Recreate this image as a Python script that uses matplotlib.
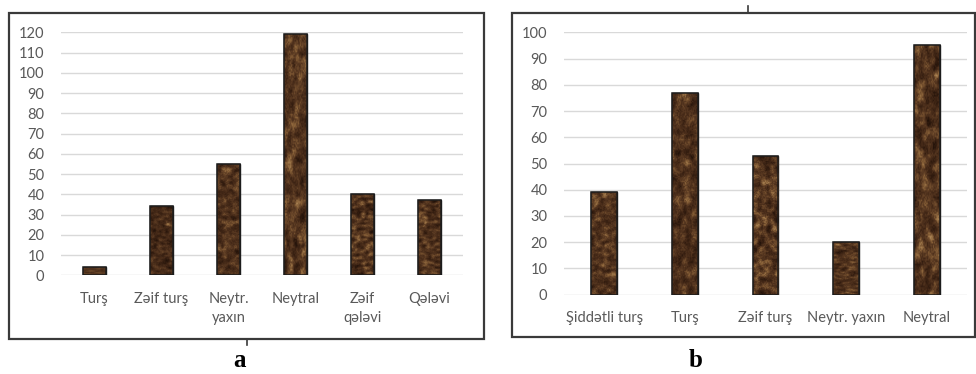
import numpy as np
import matplotlib
matplotlib.use("Agg")
import matplotlib.pyplot as plt
from matplotlib.colors import LinearSegmentedColormap
from matplotlib.patches import Rectangle
from matplotlib.lines import Line2D

# Data
cats_a = ["Turş", "Zəif turş", "Neytr.\nyaxın", "Neytral", "Zəif\nqələvi", "Qələvi"]
vals_a = [4, 34, 55, 119, 40, 37]
ticks_a = list(range(0, 121, 10))

cats_b = ["Şiddətli turş", "Turş", "Zəif turş", "Neytr. yaxın", "Neytral"]
vals_b = [39, 77, 53, 20, 95]
ticks_b = list(range(0, 101, 10))

W, H = 976, 374
fig = plt.figure(figsize=(W / 100, H / 100), dpi=100)
fig.patch.set_facecolor("white")

TXT = "#595959"
GRID = "#d9d9d9"
FONT = "Lato"
FS = 10.5

# brown marble texture used to fill the bars
rng = np.random.default_rng(11)
def marble(h=160, w=30):
    n = rng.random((h, w))
    for _ in range(10):
        n = (n + np.roll(n, 1, 0) + np.roll(n, -1, 0) + np.roll(n, 1, 1) + np.roll(n, -1, 1)) / 5
    n = (n - n.min()) / (n.max() - n.min())
    fine = rng.random((h, w)) * 0.3
    return np.clip(n * 0.8 + fine - 0.1, 0, 1)

brown = LinearSegmentedColormap.from_list(
    "brown", ["#1f1008", "#321c0f", "#462a18", "#5e3d24", "#8a6238", "#b08a5a"])


def px_rect(x0, x1, ytop, ybot):
    return [x0 / W, 1 - ybot / H, (x1 - x0) / W, (ybot - ytop) / H]


def panel(rect, cats, vals, ticks, ymax, width):
    ax = fig.add_axes(rect)
    x = np.arange(len(cats))
    bars = ax.bar(x, vals, width=width, color="#3f2617", edgecolor="#1c1c1c",
                  linewidth=1.0, zorder=3)
    for b in bars:
        x0, w, h = b.get_x(), b.get_width(), b.get_height()
        im = ax.imshow(marble(), cmap=brown, extent=(x0, x0 + w, 0, h),
                       aspect="auto", zorder=3.5, interpolation="bilinear")
        im.set_clip_path(b)
        edge = Rectangle((x0, 0), w, h, fill=False, edgecolor="#1c1c1c",
                         linewidth=1.1, zorder=4)
        ax.add_patch(edge)
    ax.set_xlim(-0.5, len(cats) - 0.5)
    ax.set_ylim(0, ymax)
    ax.set_yticks(ticks)
    ax.set_xticks(x)
    ax.set_xticklabels(cats, fontsize=FS, color=TXT, family=FONT, linespacing=1.45)
    ax.set_yticklabels([str(t) for t in ticks], fontsize=FS, color=TXT, family=FONT)
    ax.tick_params(axis="y", length=0, pad=12)
    ax.tick_params(axis="x", length=0, pad=12)
    ax.grid(axis="y", color=GRID, linewidth=1.0, zorder=0)
    for s in ax.spines.values():
        s.set_visible(False)
    ax.set_axisbelow(True)
    return ax


panel(px_rect(61, 463, 32.3, 275.3), cats_a, vals_a, ticks_a, 120, 0.33)
panel(px_rect(564, 967, 32.3, 294.7), cats_b, vals_b, ticks_b, 100, 0.32)

# panel frames
frame_kw = dict(fill=False, edgecolor="#3a3a3a", linewidth=1.6,
                transform=fig.transFigure, zorder=10)
fig.patches.append(Rectangle((9 / W, 1 - 338.5 / H), 475 / W, 325.5 / H, **frame_kw))
fig.patches.append(Rectangle((512 / W, 1 - 337 / H), 462.5 / W, 324 / H, **frame_kw))

# small marks on the frames
fig.lines.append(Line2D([247 / W, 247 / W], [1 - 339 / H, 1 - 345 / H],
                        color="#3a3a3a", linewidth=1.2, transform=fig.transFigure))
fig.lines.append(Line2D([748 / W, 748 / W], [1 - 6 / H, 1 - 13 / H],
                        color="#3a3a3a", linewidth=1.2, transform=fig.transFigure))

# panel letters
fig.text(240 / W, 1 - 367 / H, "a", ha="center", va="baseline", fontsize=18,
         fontweight="bold", family="Liberation Serif", color="black")
fig.text(696 / W, 1 - 367 / H, "b", ha="center", va="baseline", fontsize=18,
         fontweight="bold", family="Liberation Serif", color="black")

fig.savefig("out.png", dpi=100, facecolor="white")
